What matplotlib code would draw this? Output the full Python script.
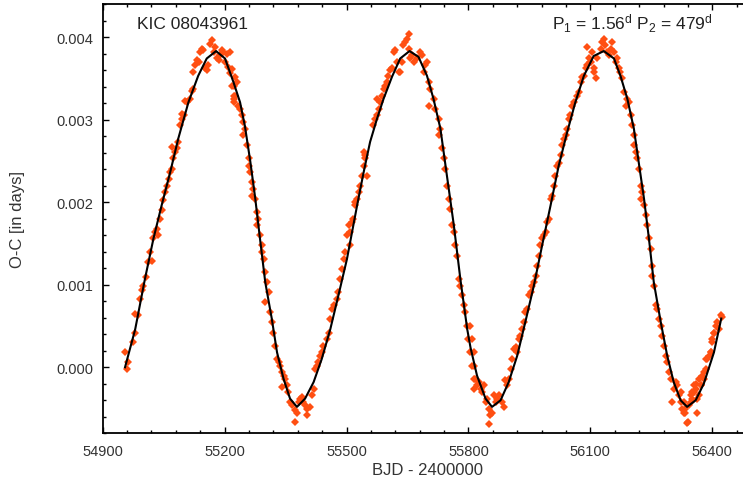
import numpy as np
import matplotlib
matplotlib.use("Agg")
import matplotlib.pyplot as plt
from matplotlib.ticker import MultipleLocator, FuncFormatter

c1_bjd = [54955, 54959, 54963, 54975, 54980, 54980, 54988, 54992, 54996, 55000,
          55007, 55012, 55021, 55017, 55025, 55029, 55033, 55037, 55041, 55045,
          55049, 55053, 55058, 55062, 55066, 55070, 55074, 55078, 55082, 55070,
          55086, 55090, 55094, 55094, 55099, 55107, 55103, 55115, 55119, 55123,
          55123, 55127, 55131, 55136, 55140, 55144, 55148, 55152, 55156, 55160,
          55164, 55168, 55173, 55177, 55181, 55185, 55189, 55193, 55197, 55201,
          55205, 55209, 55214, 55218, 55222, 55222]
c1_oc = [0.00018, -0.00002, 0.00006, 0.00030, 0.00042, 0.00065, 0.00063, 0.00083, 0.00093, 0.00099,
         0.00109, 0.00127, 0.00129, 0.00139, 0.00156, 0.00164, 0.00168, 0.00160, 0.00180, 0.00190,
         0.00202, 0.00212, 0.00220, 0.00228, 0.00236, 0.00240, 0.00253, 0.00261, 0.00265, 0.00267,
         0.00273, 0.00293, 0.00301, 0.00307, 0.00305, 0.00321, 0.00323, 0.00325, 0.00335, 0.00337,
         0.00358, 0.00366, 0.00372, 0.00370, 0.00382, 0.00386, 0.00384, 0.00362, 0.00360, 0.00366,
         0.00392, 0.00396, 0.00382, 0.00388, 0.00374, 0.00372, 0.00378, 0.00384, 0.00382, 0.00370,
         0.00380, 0.00364, 0.00356, 0.00341, 0.00329, 0.00321]

c2_bjd = [55214, 55218, 55222, 55226, 55230, 55226, 55222, 55234, 55238, 55242,
          55246, 55250, 55246, 55255, 55259, 55259, 55263, 55267, 55271, 55267,
          55275, 55279, 55283, 55279, 55287, 55291, 55291, 55296, 55300, 55304,
          55300, 55308, 55312, 55316, 55320, 55324, 55328, 55333, 55337, 55341,
          55345, 55349, 55341, 55353, 55357, 55361, 55365, 55374, 55378, 55374,
          55382, 55386, 55390, 55394, 55398, 55402, 55402, 55411, 55415, 55419,
          55423, 55427, 55431, 55435, 55439, 55443, 55451, 55456, 55460, 55464,
          55468, 55476, 55480, 55484, 55488, 55493, 55497, 55501, 55505, 55509,
          55513, 55521]
c2_oc = [0.00382, 0.00361, 0.00341, 0.00351, 0.00345, 0.00329, 0.00325, 0.00317, 0.00313, 0.00305,
         0.00297, 0.00289, 0.00281, 0.00269, 0.00253, 0.00244, 0.00236, 0.00224, 0.00216, 0.00208,
         0.00204, 0.00188, 0.00180, 0.00172, 0.00160, 0.00148, 0.00139, 0.00131, 0.00115, 0.00103,
         0.00079, 0.00091, 0.00067, 0.00055, 0.00042, 0.00026, 0.00010, 0.00006, 0.00002, -0.00006,
         -0.00010, -0.00014, -0.00024, -0.00022, -0.00030, -0.00042, -0.00046, -0.00052, -0.00055, -0.00066,
         -0.00042, -0.00038, -0.00036, -0.00042, -0.00046, -0.00050, -0.00058, -0.00048, -0.00034, -0.00026,
         -0.00002, 0.00002, 0.00006, 0.00014, 0.00018, 0.00026, 0.00034, 0.00042, 0.00059, 0.00071,
         0.00075, 0.00083, 0.00091, 0.00107, 0.00119, 0.00131, 0.00139, 0.00160, 0.00172, 0.00164,
         0.00176, 0.00200]

c3_bjd = [55509, 55517, 55521, 55525, 55530, 55534, 55538, 55542, 55546, 55550,
          55542, 55546, 55566, 55571, 55575, 55579, 55583, 55575, 55587, 55591,
          55595, 55599, 55603, 55608, 55612, 55616, 55620, 55624, 55628, 55632,
          55636, 55640, 55644, 55649, 55653, 55653, 55657, 55661, 55665, 55673,
          55681, 55686, 55690, 55694, 55698, 55702, 55706, 55702, 55714, 55718,
          55727, 55731, 55727, 55735, 55739, 55743, 55747, 55751, 55755, 55759,
          55764, 55768, 55772, 55776, 55780, 55784, 55788, 55792, 55796, 55800,
          55805, 55809, 55813, 55814]
c3_oc = [0.00148, 0.00180, 0.00196, 0.00204, 0.00212, 0.00220, 0.00232, 0.00244, 0.00257, 0.00232,
         0.00261, 0.00253, 0.00293, 0.00301, 0.00305, 0.00313, 0.00321, 0.00325, 0.00329, 0.00337,
         0.00341, 0.00345, 0.00353, 0.00360, 0.00362, 0.00382, 0.00384, 0.00370, 0.00358, 0.00358,
         0.00370, 0.00390, 0.00394, 0.00398, 0.00404, 0.00386, 0.00374, 0.00378, 0.00370, 0.00374,
         0.00382, 0.00378, 0.00358, 0.00366, 0.00370, 0.00345, 0.00337, 0.00317, 0.00325, 0.00313,
         0.00301, 0.00289, 0.00281, 0.00265, 0.00253, 0.00240, 0.00220, 0.00204, 0.00192, 0.00172,
         0.00164, 0.00148, 0.00135, 0.00107, 0.00099, 0.00087, 0.00075, 0.00067, 0.00050, 0.00034,
         0.00018, 0.00002, -0.00014, -0.00026]

c4_bjd = [55805, 55809, 55813, 55813, 55817, 55821, 55826, 55830, 55834, 55838,
          55842, 55846, 55850, 55850, 55854, 55858, 55862, 55867, 55871, 55875,
          55883, 55887, 55891, 55895, 55899, 55904, 55908, 55912, 55916, 55920,
          55924, 55928, 55932, 55936, 55940, 55945, 55949, 55953, 55957, 55961,
          55965, 55969, 55973, 55977, 55982, 55986, 55990, 55994, 55998, 56002,
          56006, 56010, 56014, 56018, 56023, 56027, 56031, 56035, 56039, 56043,
          56047, 56051, 56055, 56060, 56068, 56072, 56076, 56080, 56084, 56088,
          56092, 56096, 56101, 56105, 56092, 56109]
c4_oc = [0.00050, 0.00034, 0.00018, 0.00002, -0.00014, -0.00022, -0.00018, -0.00026, -0.00030, -0.00022,
         -0.00042, -0.00038, -0.00050, -0.00069, -0.00058, -0.00055, -0.00034, -0.00042, -0.00038, -0.00034,
         -0.00042, -0.00048, -0.00016, -0.00022, -0.00014, -0.00002, 0.00010, 0.00022, 0.00024, 0.00018,
         0.00034, 0.00038, 0.00046, 0.00055, 0.00067, 0.00071, 0.00087, 0.00091, 0.00099, 0.00103,
         0.00111, 0.00123, 0.00135, 0.00148, 0.00156, 0.00160, 0.00164, 0.00176, 0.00180, 0.00204,
         0.00208, 0.00220, 0.00232, 0.00244, 0.00248, 0.00257, 0.00269, 0.00277, 0.00281, 0.00289,
         0.00301, 0.00305, 0.00317, 0.00321, 0.00329, 0.00333, 0.00345, 0.00351, 0.00353, 0.00362,
         0.00366, 0.00374, 0.00370, 0.00382, 0.00388, 0.00358]

c5_bjd = [56100, 56109, 56113, 56117, 56125, 56129, 56133, 56137, 56141, 56146,
          56150, 56154, 56158, 56162, 56166, 56170, 56174, 56178, 56183, 56187,
          56191, 56195, 56199, 56203, 56207, 56207, 56211, 56215, 56220, 56224,
          56228, 56224, 56232, 56236, 56240, 56244, 56248, 56252, 56252, 56257,
          56261, 56265, 56269, 56273, 56277, 56281, 56285, 56289, 56293, 56298,
          56302, 56306, 56310, 56314, 56318, 56322, 56326, 56330, 56334, 56339,
          56343, 56347, 56351, 56355, 56359, 56363, 56367, 56371, 56380, 56384,
          56388, 56396, 56400, 56404]
c5_oc = [0.00370, 0.00362, 0.00350, 0.00374, 0.00386, 0.00394, 0.00398, 0.00390, 0.00382, 0.00378,
         0.00386, 0.00394, 0.00382, 0.00370, 0.00374, 0.00362, 0.00358, 0.00350, 0.00333, 0.00317,
         0.00325, 0.00321, 0.00305, 0.00293, 0.00281, 0.00269, 0.00261, 0.00253, 0.00240, 0.00220,
         0.00212, 0.00204, 0.00196, 0.00184, 0.00172, 0.00156, 0.00143, 0.00123, 0.00111, 0.00099,
         0.00075, 0.00071, 0.00059, 0.00050, 0.00038, 0.00026, 0.00014, 0.00006, -0.00006, -0.00014,
         -0.00042, -0.00026, -0.00018, -0.00022, -0.00034, -0.00042, -0.00050, -0.00055, -0.00050, -0.00066,
         -0.00046, -0.00042, -0.00038, -0.00030, -0.00026, -0.00055, -0.00034, -0.00022, -0.00014, -0.00002,
         0.00010, 0.00018, 0.00034, 0.00042]

c6_bjd = [56322, 56330, 56334, 56338, 56347, 56351, 56355, 56359, 56363, 56367,
          56371, 56375, 56379, 56384, 56392, 56396, 56400, 56404, 56408, 56412,
          56416, 56421, 56425]
c6_oc = [-0.00030, -0.00042, -0.00055, -0.00067, -0.00034, -0.00030, -0.00022, -0.00020, -0.00038, -0.00014,
         -0.00022, -0.00010, -0.00006, 0.00010, 0.00014, 0.00018, 0.00030, 0.00042, 0.00050, 0.00055,
         0.00046, 0.00063, 0.00061]

# fitted LTTE curve
fit_bjd = [54955, 54980, 55004, 55025, 55045, 55066, 55086, 55111, 55135, 55156,
           55179, 55201, 55222, 55238, 55250, 55263, 55275, 55287, 55300, 55316,
           55329, 55345, 55361, 55378, 55398, 55419, 55439, 55460, 55480, 55501,
           55526, 55542, 55558, 55575, 55591, 55612, 55632, 55655, 55677, 55698,
           55714, 55731, 55747, 55764, 55780, 55797, 55805, 55821, 55842, 55858,
           55879, 55899, 55920, 55940, 55961, 55981, 56002, 56022, 56043, 56063,
           56084, 56108, 56133, 56158, 56174, 56191, 56207, 56219, 56232, 56244,
           56256, 56273, 56289, 56305, 56322, 56338, 56359, 56379, 56404, 56422]
fit_oc = [0.00000, 0.00046, 0.00107, 0.00156, 0.00196, 0.00236, 0.00277, 0.00321, 0.00353, 0.00374,
          0.00383, 0.00374, 0.00345, 0.00321, 0.00292, 0.00250, 0.00206, 0.00156, 0.00103, 0.00059,
          0.00018, -0.00014, -0.00038, -0.00048, -0.00038, -0.00018, 0.00010, 0.00046, 0.00087, 0.00131,
          0.00196, 0.00236, 0.00273, 0.00301, 0.00325, 0.00352, 0.00374, 0.00383, 0.00376, 0.00353,
          0.00325, 0.00289, 0.00232, 0.00172, 0.00107, 0.00046, 0.00024, -0.00010, -0.00038, -0.00048,
          -0.00040, -0.00018, 0.00014, 0.00055, 0.00099, 0.00147, 0.00196, 0.00244, 0.00285, 0.00321,
          0.00353, 0.00377, 0.00383, 0.00374, 0.00353, 0.00325, 0.00289, 0.00248, 0.00204, 0.00156,
          0.00103, 0.00055, 0.00014, -0.00018, -0.00040, -0.00048, -0.00040, -0.00020, 0.00018, 0.00059]

obs_bjd = np.concatenate([c1_bjd, c2_bjd, c3_bjd, c4_bjd, c5_bjd, c6_bjd])
obs_oc = np.concatenate([c1_oc, c2_oc, c3_oc, c4_oc, c5_oc, c6_oc])

plt.rcParams["font.family"] = ["Liberation Sans", "DejaVu Sans"]
plt.rcParams["mathtext.default"] = "regular"

fig = plt.figure(figsize=(7.43, 4.81), dpi=100)
# right spine sits just past the image edge in the original
ax = fig.add_axes([0.1382, 0.0971, 0.8752, 0.8925])

ax.plot(obs_bjd, obs_oc, "D", ms=4.4, mew=0, color="#ff4f12", zorder=2)
ax.plot(fit_bjd, fit_oc, "-", color="black", lw=1.5, zorder=3)

ax.set_xlim(54900, 56500)
ax.set_ylim(-0.0008, 0.0044)
ax.xaxis.set_major_locator(MultipleLocator(300))
ax.xaxis.set_minor_locator(MultipleLocator(60))
ax.yaxis.set_major_locator(MultipleLocator(0.001))
ax.yaxis.set_minor_locator(MultipleLocator(0.0002))
ax.yaxis.set_major_formatter(FuncFormatter(lambda v, p: f"{abs(v):.3f}" if abs(v) < 1e-9 else f"{v:.3f}"))

ax.tick_params(which="both", direction="in", top=True, right=False,
               labelsize=10.5, labelcolor="#333333", width=1)
ax.tick_params(which="major", length=4)
ax.tick_params(which="minor", length=2)
ax.tick_params(axis="x", pad=8)
ax.tick_params(axis="y", pad=7)
ax.spines["right"].set_visible(False)
for s in ["left", "bottom", "top"]:
    ax.spines[s].set_linewidth(1.3)

ax.set_xlabel("BJD - 2400000", fontsize=12, color="#333333")
ax.set_ylabel("O-C [in days]", fontsize=12, color="#333333")
ax.xaxis.set_label_coords(0.5, -0.068)
ax.yaxis.set_label_coords(-0.12, 0.5)

ax.text(0.0527, 0.943, "KIC 08043961", transform=ax.transAxes, fontsize=12.5,
        color="#222222", ha="left", va="baseline")
ax.text(0.938, 0.943, r"P$_1$ = 1.56$^d$ P$_2$ = 479$^d$", transform=ax.transAxes,
        fontsize=12.5, color="#222222", ha="right", va="baseline")

fig.savefig("out.png", dpi=100)
